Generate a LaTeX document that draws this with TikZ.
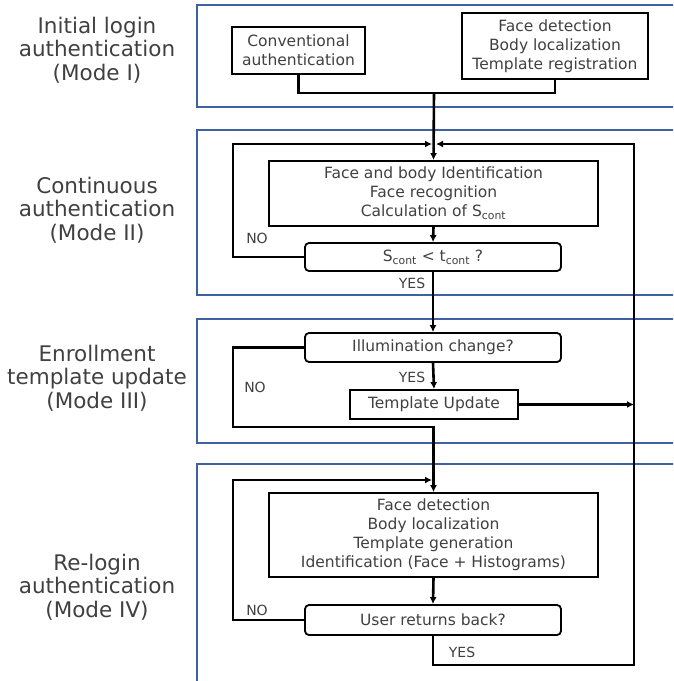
\documentclass[tikz,border=0pt]{standalone}
\usepackage{fontspec}
\setmainfont{DejaVu Sans}
\usetikzlibrary{arrows.meta, positioning}
\definecolor{modeblue}{RGB}{62,98,160}
\definecolor{txtgray}{RGB}{64,64,64}

\begin{document}
\begin{tikzpicture}[x=1pt,y=-1pt,
 modebox/.style={draw=modeblue,line width=2pt},
 procbox/.style={draw,line width=1.8pt,align=center,inner sep=0pt,text=txtgray,
   font=\fontsize{15.5}{19}\selectfont},
 decbox/.style={procbox,rounded corners=4pt,minimum width=256pt},
 sidelabel/.style={align=center,text=txtgray,font=\fontsize{21.5}{23.5}\selectfont},
 flow/.style={line width=2.6pt},
 arr/.style={flow,-{Latex[length=7pt,width=7pt]}},
 tag/.style={text=txtgray,font=\fontsize{14}{16}\selectfont}]

  \useasboundingbox (0,0) rectangle (673,681);

  % mode frames
  \begin{scope}
    \clip (0,0) rectangle (673,681);
    \draw[modebox] (197,5) rectangle (690,107);
    \draw[modebox] (197,130) rectangle (690,295);
    \draw[modebox] (197,319) rectangle (690,443);
    \draw[modebox] (197,464) rectangle (690,700);
  \end{scope}

  \node[sidelabel] (m1) at (97,50) {Initial login\\authentication\\(Mode I)};
  \node[sidelabel] (m2) at (97,210) {Continuous\\authentication\\(Mode II)};
  \node[sidelabel] (m3) at (97,378) {Enrollment\\template update\\(Mode III)};
  \node[sidelabel] (m4) at (97,587) {Re-login\\authentication\\(Mode IV)};

  % boxes
  \node[procbox,minimum width=133pt,minimum height=47pt] (conv) at (298.5,50.5) {Conventional\\authentication};
  \node[procbox,minimum width=186pt,minimum height=66pt] (reg) at (555,46) {Face detection\\Body localization\\Template registration};
  \node[procbox,minimum width=329pt,minimum height=65pt] (ident) at (433.5,193.5) {Face and body Identification\\Face recognition\\Calculation of S\textsubscript{cont}};
  \node[decbox,minimum height=28pt] (scont) at (433,257) {S\textsubscript{cont} < t\textsubscript{cont} ?};
  \node[decbox,minimum height=29pt] (illum) at (433,347.5) {Illumination change?};
  \node[procbox,minimum width=168pt,minimum height=29pt] (tupd) at (434,404.5) {Template Update};
  \node[procbox,minimum width=329pt,minimum height=84pt] (relog) at (433.5,535) {Face detection\\Body localization\\Template generation\\Identification (Face + Histograms)};
  \node[decbox,minimum height=30pt] (back) at (433,620) {User returns back?};

  % helper points
  \coordinate (join) at (434,93);
  \coordinate (in2) at (434,144);
  \coordinate (no2) at (233,144);
  \coordinate (no3) at (233,427);
  \coordinate (in4) at (434,480);
  \coordinate (no4) at (233,480);
  \coordinate (ret) at (634,665);
  \coordinate (rettop) at (634,144);

  % connectors
  \draw[flow] (conv.south) |- (join) -| (reg.south);
  \draw[arr] (join) -- (ident.north);
  \draw[arr] (ident.south) -- (scont.north);
  \draw[arr] (scont.west) -| (no2) -- ([xshift=-2pt]in2);
  \draw[arr] (scont.south) -- (illum.north);
  \draw[arr] (illum.south) -- (tupd.north);
  \draw[arr] (tupd.east) -- (tupd.east -| ret);
  \draw[arr] (illum.west) -| (no3) -| (relog.north);
  \draw[arr] (relog.south) -- (back.north);
  \draw[arr] (back.west) -| (no4) -- ([xshift=-2pt]in4);
  \draw[arr] (back.south) |- (ret) -- (rettop) -- ([xshift=2pt]in2);

  % branch labels
  \node[tag] (no2t) at (257,238) {NO};
  \node[tag] (yes2t) at (412,283) {YES};
  \node[tag] (no3t) at (255,387) {NO};
  \node[tag] (yes3t) at (412,377) {YES};
  \node[tag] (no4t) at (257,610) {NO};
  \node[tag] (yes4t) at (462,652) {YES};
\end{tikzpicture}
\end{document}
